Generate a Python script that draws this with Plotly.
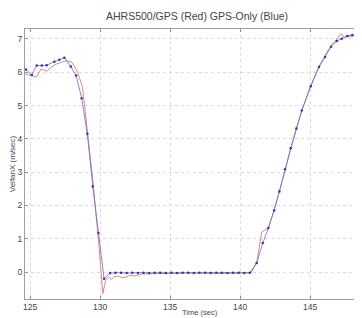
import plotly.graph_objects as go

# GPS-only (blue) series
blue_t = [124.71, 125.12, 125.48, 125.84, 126.19, 126.74, 127.09, 127.45, 127.91, 128.29,
          128.69, 129.09, 129.48, 129.88, 130.29, 130.71,
          131.1, 131.5, 131.9, 132.3, 132.7, 133.1, 133.5, 133.9, 134.3, 134.7, 135.1,
          135.5, 135.9, 136.3, 136.7, 137.1, 137.5, 137.9, 138.3, 138.7, 139.1, 139.5,
          139.9, 140.3, 140.7,
          141.19, 141.62, 142.02, 142.43, 142.81, 143.21, 143.62, 144.02, 144.41,
          145.05, 145.64, 146.07, 146.5, 146.91, 147.26, 147.66, 148.02, 148.38, 148.71]
blue_v = [6.08, 5.92, 6.20, 6.20, 6.21, 6.32, 6.38, 6.44, 6.17, 5.90,
          5.22, 4.15, 2.57, 1.17, -0.20, -0.03,
          -0.02, -0.02, -0.03, -0.02, -0.03, -0.02, -0.03, -0.02, -0.02, -0.03, -0.02,
          -0.03, -0.02, -0.02, -0.03, -0.02, -0.02, -0.03, -0.02, -0.02, -0.03, -0.02,
          -0.02, -0.03, -0.02,
          0.27, 0.87, 1.32, 1.85, 2.42, 3.09, 3.72, 4.31, 4.85,
          5.58, 6.16, 6.46, 6.77, 6.94, 7.01, 7.09, 7.12, 7.09, 7.03]

# AHRS500/GPS (red) series
red_t = [124.65, 125.1, 125.45, 125.8, 126.2, 126.5, 126.9, 127.25, 127.6, 128.0,
         128.4, 128.75, 129.1, 129.5, 129.9, 130.2, 130.4, 130.6, 130.8, 131.0,
         131.3, 131.7, 132.1, 132.5, 133.0, 134.0, 135.0, 136.0, 137.0, 138.0,
         139.0, 140.0, 140.8, 141.2, 141.55, 141.8, 142.02, 142.43, 142.81, 143.21,
         143.62, 144.02, 144.41, 145.05, 145.64, 146.07, 146.5, 146.91, 147.2,
         147.45, 147.8, 148.2, 148.71]
red_v = [5.95, 5.90, 5.86, 6.10, 6.03, 6.15, 6.25, 6.30, 6.35, 6.30,
         6.00, 5.55, 4.30, 2.70, 0.90, -0.65, -0.25, -0.15, -0.22, -0.14,
         -0.12, -0.18, -0.10, -0.12, -0.06, -0.04, -0.04, -0.03, -0.04, -0.03,
         -0.04, -0.03, -0.02, 0.30, 1.20, 1.27, 1.32, 1.85, 2.40, 3.05,
         3.70, 4.30, 4.85, 5.60, 6.18, 6.50, 6.80, 7.00, 7.16,
         7.05, 7.08, 7.10, 7.05]

x_ticks = [125, 130, 135, 140, 145]
y_ticks = [0, 1, 2, 3, 4, 5, 6, 7]

FONT = "Liberation Sans, Arial"

fig = go.Figure()
fig.add_trace(go.Scatter(x=red_t, y=red_v, mode="lines",
                         line=dict(color="#d98a8a", width=1), name="AHRS500/GPS"))
fig.add_trace(go.Scatter(x=blue_t, y=blue_v, mode="lines+markers",
                         line=dict(color="#6a6ac4", width=0.8),
                         marker=dict(color="#3535a5", size=2.5), name="GPS-Only"))

axis_common = dict(showline=True, linecolor="#a0a0a0", linewidth=1, mirror="ticks",
                   ticks="inside", ticklen=3, tickcolor="#909090",
                   showgrid=True, gridcolor="#dcdcdc", griddash="dot", gridwidth=1,
                   zeroline=False, automargin=False,
                   tickfont=dict(family=FONT, size=8.5, color="#444444"))

fig.update_layout(
    width=354, height=310,
    margin=dict(l=17, r=0, t=21, b=19),
    paper_bgcolor="white", plot_bgcolor="white",
    showlegend=False,
    title=dict(text="AHRS500/GPS (Red) GPS-Only (Blue)", x=0.534, xanchor="center",
               y=0.974, yanchor="middle",
               font=dict(family=FONT, size=10.5, color="#444444")),
    xaxis=dict(range=[124.64, 148.71], tickvals=x_ticks, **axis_common),
    yaxis=dict(range=[-0.81, 7.3], tickvals=y_ticks,
               title=dict(text="VelfanX (m/sec)", standoff=2,
                          font=dict(family=FONT, size=8, color="#444444")),
               **axis_common),
    annotations=[dict(text="Time (sec)", xref="paper", yref="paper",
                      x=0.52, y=-0.05, xanchor="center", yanchor="middle",
                      showarrow=False, font=dict(family=FONT, size=7.5, color="#444444"))],
)

fig.write_html("out.html")
